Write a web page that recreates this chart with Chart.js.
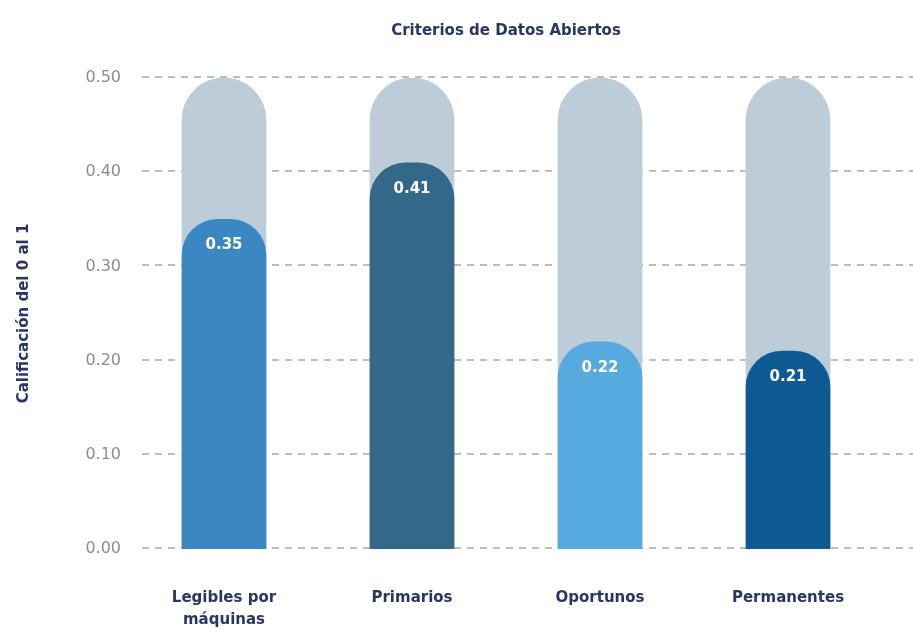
<!DOCTYPE html>
<html>
<head>
<meta charset="utf-8">
<script src="https://cdn.jsdelivr.net/npm/chart.js@4/dist/chart.umd.min.js"></script>
<style>
  html, body { margin: 0; padding: 0; background: #fff; }
  #wrap { width: 913px; height: 636px; }
</style>
</head>
<body>
<div id="wrap"><canvas id="chart"></canvas></div>
<script>
const categories = [["Legibles por", "máquinas"], "Primarios", "Oportunos", "Permanentes"];
const scores = [0.35, 0.41, 0.22, 0.21];
const maxScores = [0.5, 0.5, 0.5, 0.5];
const barColors = ["#3b87c1", "#336889", "#57aade", "#0e5a92"];
const yTicks = [0, 0.1, 0.2, 0.3, 0.4, 0.5];

const navy = "#2b3565";
const fontFamily = "'DejaVu Sans', sans-serif";

// dashed gridlines running across the full width, behind the bars
const dashedGrid = {
  id: "dashedGrid",
  beforeDatasetsDraw(chart) {
    const ctx = chart.ctx;
    const y = chart.scales.y;
    ctx.save();
    ctx.strokeStyle = "#bdbdbd";
    ctx.lineWidth = 2;
    ctx.setLineDash([7, 6]);
    yTicks.forEach((v) => {
      const py = Math.round(y.getPixelForValue(v)) - 1;
      ctx.beginPath();
      ctx.moveTo(chart.chartArea.left + 12, py);
      ctx.lineTo(chart.width, py);
      ctx.stroke();
    });
    ctx.restore();
  },
};

// white value labels near the top of each coloured bar
const valueLabels = {
  id: "valueLabels",
  afterDatasetsDraw(chart) {
    const ctx = chart.ctx;
    const meta = chart.getDatasetMeta(1);
    ctx.save();
    ctx.fillStyle = "#ffffff";
    ctx.font = "bold 15px " + fontFamily;
    ctx.textAlign = "center";
    ctx.textBaseline = "middle";
    meta.data.forEach((bar, i) => {
      ctx.fillText(scores[i].toFixed(2), bar.x, bar.y + 26);
    });
    ctx.restore();
  },
};

new Chart(document.getElementById("chart"), {
  type: "bar",
  data: {
    labels: categories,
    datasets: [
      {
        label: "Máximo",
        data: maxScores,
        backgroundColor: "#bccdd9",
        borderRadius: { topLeft: 42, topRight: 42 },
        borderSkipped: "bottom",
        barThickness: 84,
        grouped: false,
        order: 2,
      },
      {
        label: "Calificación",
        data: scores,
        backgroundColor: barColors,
        borderRadius: { topLeft: 36, topRight: 36 },
        borderSkipped: "bottom",
        barThickness: 84,
        grouped: false,
        order: 1,
      },
    ],
  },
  options: {
    responsive: true,
    maintainAspectRatio: false,
    animation: false,
    layout: { padding: { right: 31, top: 0, bottom: 0, left: 15 } },
    plugins: {
      legend: { display: false },
      tooltip: { enabled: false },
      title: {
        display: true,
        text: "Criterios de Datos Abiertos",
        color: navy,
        fullSize: false,
        font: { family: fontFamily, size: 15, weight: "bold" },
        padding: { top: 22, bottom: 38 },
      },
    },
    scales: {
      x: {
        grid: { display: false, drawTicks: false },
        border: { display: false },
        ticks: {
          color: navy,
          padding: 38,
          font: { family: fontFamily, size: 15, weight: "bold", lineHeight: 1.45 },
        },
        afterFit(scale) { scale.height = 87; },
      },
      y: {
        min: 0,
        max: 0.5,
        grid: { display: false, drawTicks: false },
        border: { display: false },
        ticks: {
          stepSize: 0.1,
          color: "#8c8c8c",
          padding: 9,
          font: { family: fontFamily, size: 16 },
          callback: (v) => Number(v).toFixed(2),
        },
        title: {
          display: true,
          text: "Calificación del 0 al 1",
          color: navy,
          font: { family: fontFamily, size: 15, weight: "bold" },
          padding: { top: 0, bottom: 0 },
        },
        afterFit(scale) { scale.width = 115; },
      },
    },
  },
  plugins: [dashedGrid, valueLabels],
});
</script>
</body>
</html>
